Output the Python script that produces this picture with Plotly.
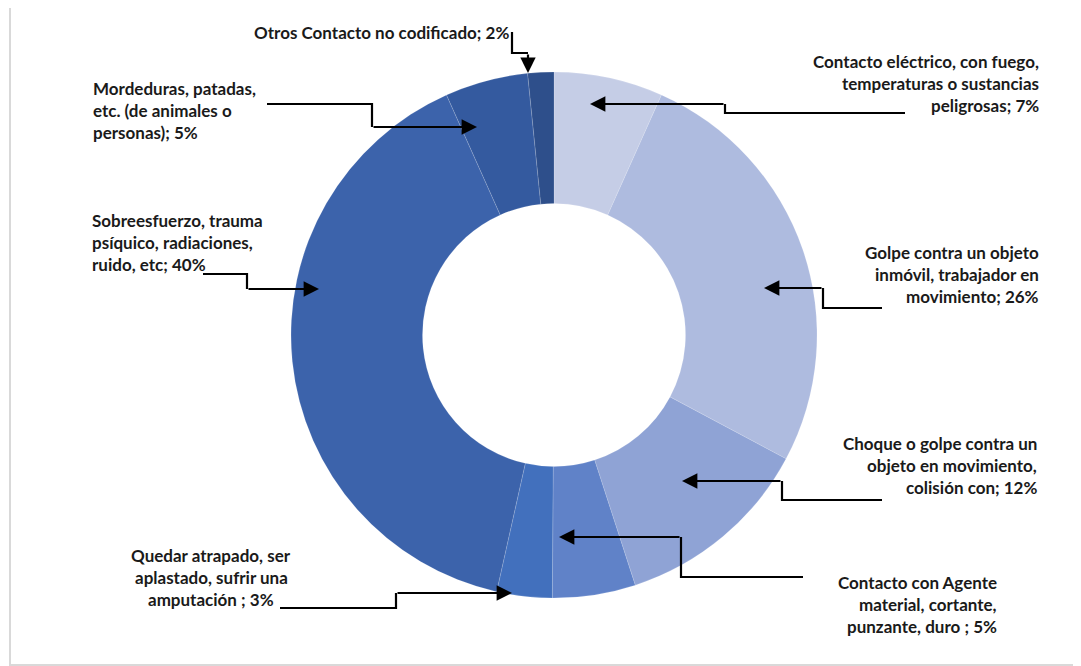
import plotly.graph_objects as go

OFF = 8  # page body margin
W, H = 1081 - OFF, 666 - OFF

# ---- data ----
categories = [
    "Contacto eléctrico, con fuego, temperaturas o sustancias peligrosas",
    "Golpe contra un objeto inmóvil, trabajador en movimiento",
    "Choque o golpe contra un objeto en movimiento, colisión con",
    "Contacto con Agente material, cortante, punzante, duro ",
    "Quedar atrapado, ser aplastado, sufrir una amputación ",
    "Sobreesfuerzo, trauma psíquico, radiaciones, ruido, etc",
    "Mordeduras, patadas, etc. (de animales o personas)",
    "Otros Contacto no codificado",
]
values = [6.7, 26.1, 12.2, 5.1, 3.4, 39.8, 5.1, 1.6]
wrapped_names = [
    ["Contacto eléctrico, con fuego,", "temperaturas o sustancias", "peligrosas"],
    ["Golpe contra un objeto", "inmóvil, trabajador en", "movimiento"],
    ["Choque o golpe contra un", "objeto en movimiento,", "colisión con"],
    ["Contacto con Agente", "material, cortante,", "punzante, duro "],
    ["Quedar atrapado, ser", "aplastado, sufrir una", "amputación "],
    ["Sobreesfuerzo, trauma", "psíquico, radiaciones,", "ruido, etc"],
    ["Mordeduras, patadas,", "etc. (de animales o", "personas)"],
    ["Otros Contacto no codificado"],
]
colors = ["#c5cde6", "#aebbdf", "#8fa3d5", "#6082c8", "#4270bd",
          "#3c63ab", "#345a9f", "#2e4f8b"]

# ---- layout helpers (window pixel -> paper) ----
def px(x):
    return (x - OFF) / W

def py(y):
    return 1 - (y - OFF) / H

# label placement: (anchor x, first line y, xanchor)
label_pos = [
    (1041, 61, "right"),
    (1041, 252, "right"),
    (1039, 443, "right"),
    (999, 582, "right"),
    (211, 555, "center"),
    (90, 220, "left"),
    (91, 88, "left"),
    (511, 32, "right"),
]
# leader line points in pixels; last point is the arrow tip
leaders = [
    [(905, 113), (725, 113), (725, 104), (590, 104)],
    [(882, 308), (823, 308), (823, 288), (764, 288)],
    [(882, 500), (782, 500), (782, 481), (682, 481)],
    [(803, 577), (681, 577), (681, 537), (559, 537)],
    [(280, 608), (396, 608), (396, 593), (512, 593)],
    [(203, 274), (247, 274), (247, 289), (319, 289)],
    [(267, 104), (372, 104), (372, 127), (477, 127)],
    [(512, 32), (512, 53), (528, 53), (528, 73)],
]

cx, cy, R = 554, 335, 263
fig = go.Figure(go.Pie(
    labels=categories,
    values=values,
    hole=0.5,
    sort=False,
    direction="clockwise",
    rotation=0,
    marker=dict(colors=colors, line=dict(color="rgba(255,255,255,0.25)", width=0.6)),
    textinfo="none",
    hoverinfo="label+percent",
    showlegend=False,
    domain=dict(x=[px(cx) - 0.3, px(cx) + 0.3], y=[py(cy + R), py(cy - R)]),
))

font = dict(family="Lato, Calibri, sans-serif", size=17, color="#1a1a1a")
annotations = []
shapes = []
for names, v, (ax_, ay_, anchor), pts in zip(wrapped_names, values, label_pos, leaders):
    lines = list(names)
    lines[-1] = lines[-1] + f"; {round(v)}%"
    for i, ln in enumerate(lines):
        annotations.append(dict(
            x=px(ax_), y=py(ay_ + 22.3 * i), xref="paper", yref="paper",
            text=f"<b>{ln}</b>", showarrow=False, xanchor=anchor, yanchor="middle",
            font=font,
        ))
    # elbow segments
    path = "M " + " L ".join(f"{px(x)} {py(y)}" for x, y in pts[:-1])
    shapes.append(dict(type="path", path=path, xref="paper", yref="paper",
                       line=dict(color="black", width=2.2)))
    (x0, y0), (x1, y1) = pts[-2], pts[-1]
    annotations.append(dict(
        x=px(x1), y=py(y1), xref="paper", yref="paper",
        ax=x0 - x1, ay=y0 - y1, text="", showarrow=True,
        arrowhead=2, arrowsize=1.4, arrowwidth=2.2, arrowcolor="black", standoff=0,
    ))

shapes.append(dict(type="rect", xref="paper", yref="paper",
                   x0=px(10), x1=1.02, y0=py(665), y1=py(6),
                   line=dict(color="#d9d9d9", width=2), fillcolor="rgba(0,0,0,0)"))

fig.update_layout(
    width=W, height=H,
    margin=dict(l=0, r=0, t=0, b=0),
    paper_bgcolor="white",
    plot_bgcolor="white",
    annotations=annotations,
    shapes=shapes,
)

fig.write_html("out.html")
